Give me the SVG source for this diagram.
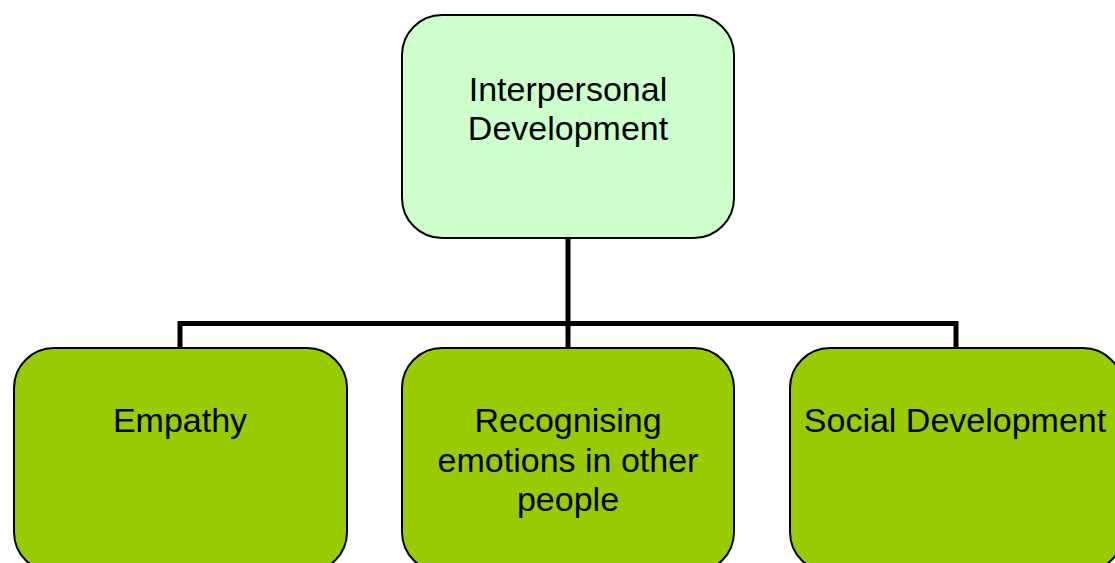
<svg xmlns="http://www.w3.org/2000/svg" width="1115" height="563" viewBox="0 0 1115 563">
<style>
.box{stroke:#000;stroke-width:2}
.top{fill:#CCFFCC}
.sub{fill:#99CC00}
.conn{fill:none;stroke:#000;stroke-width:5}
text{font-family:"Liberation Sans",Arial,sans-serif;font-size:34px;fill:#000;text-anchor:middle}
</style>
<rect width="1115" height="563" fill="#fff"/>
<g id="connectors">
<path class="conn" d="M568 238 V348"/>
<path class="conn" d="M180 348 V323.5 H956 V348"/>
</g>
<g id="node-interpersonal">
<rect class="box top" x="402" y="15" width="332" height="223" rx="40" ry="40"/>
<text x="568" y="101">Interpersonal</text>
<text x="568" y="140">Development</text>
</g>
<g id="node-empathy">
<rect class="box sub" x="14" y="348" width="333" height="224" rx="40" ry="40"/>
<text x="180" y="432">Empathy</text>
</g>
<g id="node-recognising">
<rect class="box sub" x="402" y="348" width="332" height="224" rx="40" ry="40"/>
<text x="568" y="432">Recognising</text>
<text x="568" y="472">emotions in other</text>
<text x="568" y="511">people</text>
</g>
<g id="node-social">
<rect class="box sub" x="790" y="348" width="333" height="224" rx="40" ry="40"/>
<text x="955" y="432">Social Development</text>
</g>
</svg>
